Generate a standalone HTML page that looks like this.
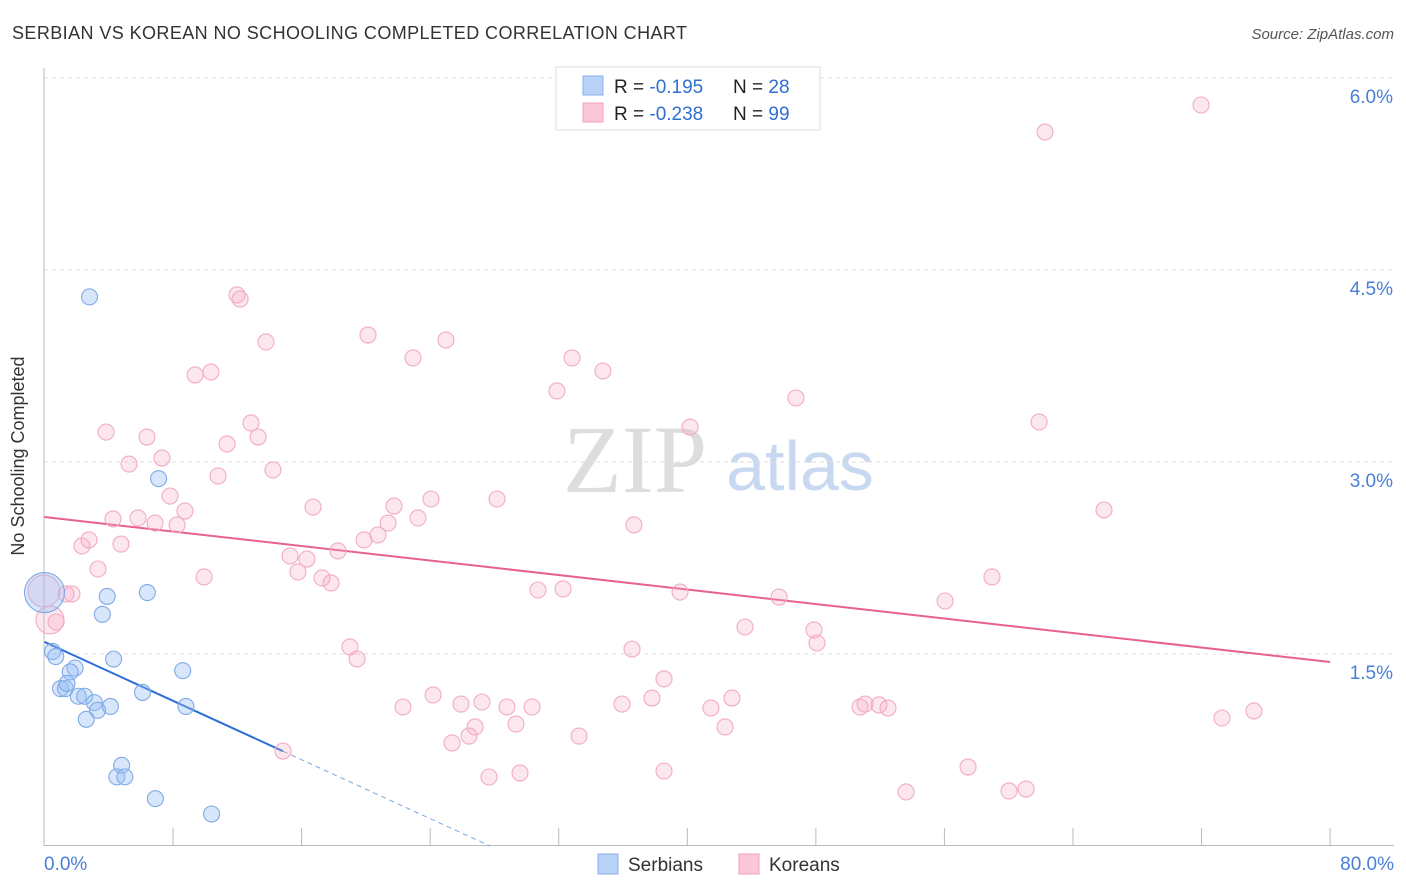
<!DOCTYPE html>
<html><head><meta charset="utf-8"><style>
body{margin:0;background:#fff;font-family:"Liberation Sans",sans-serif;}
svg{display:block}
</style></head><body>
<svg id="chart" width="1406" height="892" xmlns="http://www.w3.org/2000/svg">
<text x="12" y="39" font-size="18" fill="#333" textLength="675">SERBIAN VS KOREAN NO SCHOOLING COMPLETED CORRELATION CHART</text>
<text x="1394" y="39" font-size="15" fill="#555" font-style="italic" text-anchor="end">Source: ZipAtlas.com</text>
<text x="24" y="456" font-size="18" fill="#333" transform="rotate(-90 24 456)" text-anchor="middle">No Schooling Completed</text>
<text x="635" y="492" font-size="96" fill="#ddd" font-family="Liberation Serif,serif" text-anchor="middle">ZIP</text>
<text x="800" y="490" font-size="70" fill="#c8d8f0" text-anchor="middle">atlas</text>
<g id="grid"></g><g id="axes"></g><g id="lines"></g><g id="pts"></g>
<g>
<rect x="556" y="67" width="264" height="63" fill="#fff" stroke="#ddd"/>
<rect x="583" y="76" width="20" height="19" fill="#b8d2f8" stroke="#8ab0e8"/>
<rect x="583" y="103" width="20" height="19" fill="#fcc8d8" stroke="#f0a0b8"/>
<text x="614" y="93" font-size="19" fill="#222">R = <tspan fill="#2f6fd0"> -0.195</tspan></text>
<text x="733" y="93" font-size="19" fill="#222">N = <tspan fill="#2f6fd0">28</tspan></text>
<text x="614" y="120" font-size="19" fill="#222">R = <tspan fill="#2f6fd0">-0.238</tspan></text>
<text x="733" y="120" font-size="19" fill="#222">N = <tspan fill="#2f6fd0">99</tspan></text>
</g>
<g>
<rect x="598" y="854" width="20" height="20" fill="#b8d2f8" stroke="#8ab0e8"/>
<text x="628" y="871" font-size="19" fill="#333">Serbians</text>
<rect x="739" y="854" width="20" height="20" fill="#fcc8d8" stroke="#f0a0b8"/>
<text x="769" y="871" font-size="19" fill="#333">Koreans</text>
</g>
</svg>
<script>
const yTicks=[1.5,3.0,4.5,6.0];
const yTickLabels=["1.5%","3.0%","4.5%","6.0%"];
const xTickLabels=["0.0%","80.0%"];
const serbX=[0,2.8,7.1,6.4,3.9,3.6,0.5,0.7,4.3,1.9,1.6,8.6,1.0,1.3,1.4,2.1,2.5,3.1,3.3,4.1,6.1,8.8,2.6,4.8,4.5,5.0,6.9,10.4];
const serbY=[1.98,4.29,2.87,1.98,1.95,1.81,1.52,1.48,1.46,1.39,1.36,1.37,1.23,1.23,1.27,1.17,1.17,1.12,1.06,1.09,1.20,1.09,0.99,0.63,0.54,0.54,0.37,0.25];
const serbR=[20,8,8,8,8,8,8,8,8,8,8,8,8,8,8,8,8,8,8,8,8,8,8,8,8,8,8,8];
const korPix=[[1201,105],[1045,132],[237,295],[240,299],[368,335],[446,340],[266,342],[413,358],[572,358],[603,371],[195,375],[211,372],[557,391],[796,398],[251,423],[1039,422],[106,432],[147,437],[258,437],[690,427],[227,444],[162,458],[129,464],[273,470],[218,476],[170,496],[431,499],[497,499],[313,507],[394,506],[185,511],[1104,510],[113,519],[138,518],[155,523],[177,525],[418,518],[388,523],[634,525],[378,535],[89,540],[82,546],[121,544],[364,540],[338,551],[290,556],[307,559],[98,569],[298,572],[322,578],[331,583],[204,577],[992,577],[44,591],[66,594],[72,594],[538,590],[563,589],[680,592],[779,597],[945,601],[50,620],[56,622],[745,627],[814,630],[817,643],[350,647],[632,649],[357,659],[664,679],[433,695],[482,702],[461,704],[507,707],[532,707],[403,707],[622,704],[652,698],[732,698],[711,708],[860,707],[865,704],[879,705],[888,708],[1222,718],[1254,711],[516,724],[475,727],[725,727],[469,736],[579,736],[452,743],[283,751],[489,777],[520,773],[664,771],[968,767],[906,792],[1009,791],[1026,789]];
const korX=korPix.map(p=>+((p[0]-44.5)/16.07).toFixed(2));
const korY=korPix.map(p=>+((846-p[1])/128).toFixed(3));
const korR=korPix.map((p,i)=>i==53?16:(i==61?14:8));
const serbTrend=[1.594,-0.0575];
const korTrend=[2.57,-0.01416];
const X=v=>44.5+v*16.07, Y=v=>846-v*128;
const NS="http://www.w3.org/2000/svg";
function mk(t,a,p){const e=document.createElementNS(NS,t);for(const k in a)e.setAttribute(k,a[k]);document.getElementById(p).appendChild(e);return e;}
yTicks.forEach((t,i)=>{
 const g=mk('line',{x1:44,x2:1394,y1:Y(t),y2:Y(t),stroke:'#ddd','stroke-dasharray':'4,4'},'grid');
 
 
 const l=mk('text',{x:1393,y:Y(t)+25,'font-size':19,fill:'#4a7fd4','text-anchor':'end'},'grid');l.textContent=yTickLabels[i];
 
 
});
mk('line',{x1:44,x2:44,y1:68,y2:846,stroke:'#bbb'},'axes');
mk('line',{x1:44,x2:1394,y1:845.5,y2:845.5,stroke:'#bbb'},'axes');
for(let i=1;i<=10;i++){const t=mk('line',{x1:X(i*8),x2:X(i*8),y1:828,y2:846,stroke:'#bbb'},'axes');
 
 }
[[0,'start',44],[80,'end',1394]].forEach((d,i)=>{const l=mk('text',{x:d[2],y:870,'font-size':19,fill:'#4a7fd4','text-anchor':d[1]},'axes');l.textContent=xTickLabels[i];
 
 });
korX.forEach((x,i)=>{const c=mk('circle',{cx:X(x),cy:Y(korY[i]),r:korR[i],fill:'rgba(248,170,198,0.28)',stroke:'#f2aac4','stroke-width':1.1},'pts');
 
 });
serbX.forEach((x,i)=>{const c=mk('circle',{cx:X(x),cy:Y(serbY[i]),r:serbR[i],fill:'rgba(150,190,245,0.38)',stroke:'#7fa9e6','stroke-width':1.1},'pts');
 
 });
const kl=mk('line',{x1:X(0),y1:Y(korTrend[0]),x2:X(80),y2:Y(korTrend[0]+korTrend[1]*80),stroke:'#e8608e','stroke-width':2},'lines');


const sEnd=14.84, sZero=-serbTrend[0]/serbTrend[1];
const sl=mk('line',{x1:X(0),y1:Y(serbTrend[0]),x2:X(sEnd),y2:Y(serbTrend[0]+serbTrend[1]*sEnd),stroke:'#2c6fd6','stroke-width':2},'lines');


const sd=mk('line',{x1:X(sEnd),y1:Y(serbTrend[0]+serbTrend[1]*sEnd),x2:X(sZero),y2:Y(0),stroke:'#7aa6e6','stroke-width':1,'stroke-dasharray':'5,4'},'lines');


</script>
</body></html>
